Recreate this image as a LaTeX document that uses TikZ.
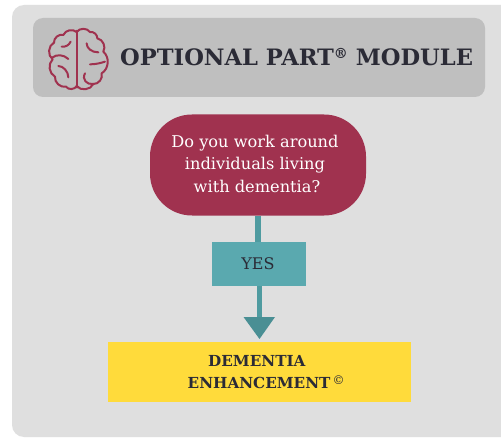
\documentclass[tikz,border=0pt]{standalone}
\usepackage{fontspec}
\setmainfont{DejaVu Serif}
\definecolor{panel}{HTML}{DFDFDF}
\definecolor{band}{HTML}{BFBFBF}
\definecolor{wine}{HTML}{A0324F}
\definecolor{teal1}{HTML}{5AA9AF}
\definecolor{teal2}{HTML}{4A8F94}
\definecolor{teal3}{HTML}{4F9BA0}
\definecolor{sun}{HTML}{FFDB3B}
\definecolor{ink}{HTML}{2B2B36}
\tikzset{
 brainline/.style={draw=wine,line width=2pt,line cap=round,line join=round},
 flowline/.style={draw=teal3,line width=5.5pt},
 label/.style={text=ink,font=\bfseries,align=center,inner sep=0pt}
}
\begin{document}
\begin{tikzpicture}[x=1pt,y=-1pt]
\useasboundingbox (0,0) rectangle (501,441);
\fill[white] (0,0) rectangle (501,441);
\fill[panel,rounded corners=12pt] (12,5) rectangle (520,437);
\node[fill=band,rounded corners=10pt,minimum width=452pt,minimum height=79pt,inner sep=0pt] (header) at (259,57.5) {};
\node[label,font=\bfseries\fontsize{22.6}{26}\selectfont,anchor=west] (title) at (120,57) {OPTIONAL PART\raisebox{0.62ex}{\fontsize{14}{14}\selectfont ®} MODULE};
\node[fill=wine,rounded corners=42pt,minimum width=216pt,minimum height=101pt,inner sep=0pt] (question) at (258,165) {};
\node[text=white,font=\fontsize{16.2}{22.5}\selectfont,align=center,inner sep=0pt] (qtext) at (255,163.5) {Do you work around\\individuals living\\\hspace*{4pt}with dementia?};
\node[fill=teal1,minimum width=94pt,minimum height=44pt,inner sep=0pt] (yes) at (258.5,264) {};
\node[text=ink,font=\fontsize{16}{18}\selectfont,inner sep=0pt] (yestext) at (258,264) {YES};
\node[fill=sun,minimum width=303pt,minimum height=60pt,inner sep=0pt] (result) at (259.5,372) {};
\node[label,font=\bfseries\fontsize{15.2}{21}\selectfont,anchor=west] (r1) at (208,361) {DEMENTIA};
\node[label,font=\bfseries\fontsize{15.2}{21}\selectfont,anchor=west] (r2) at (187.5,382) {ENHANCEMENT\raisebox{0.55ex}{\fontsize{12}{12}\mdseries\selectfont\,©}};
\coordinate (tip) at (259.5,339);
\coordinate (base) at (259.5,317);
\draw[flowline] (question.south) -- (question.south |- yes.north);
\draw[flowline] (base |- yes.south) -- (base);
\fill[teal2] (243.5,317) -- (275,317) -- (tip) -- cycle;
% brain
\begin{scope}[shift={(40,20)},x=0.3333pt,y=-0.3333pt,brainline]
\draw (110,32) -- (110,203);
\draw (110,36) to[bend right=55] (70,45) to[bend right=55] (42,68) to[bend right=60] (38,118) to[bend right=55] (45,170) to[bend right=55] (78,200) to[bend right=60] (110,198);
\draw (110,36) to[bend left=55] (150,36) to[bend left=50] (172,55) to[bend left=55] (190,95) to[bend left=55] (185,160) to[bend left=55] (160,192) to[bend left=60] (110,198);
\draw (65,80) to[bend right=35] (92,65);
\draw (38,112) .. controls (50,103) and (70,103) .. (85,117);
\draw (55,138) .. controls (70,138) and (85,155) .. (85,172);
\draw (140,70) .. controls (140,85) and (155,97) .. (175,97);
\draw (150,133) .. controls (165,133) and (180,130) .. (195,125);
\draw (135,160) .. controls (125,178) and (140,195) .. (160,192);
\end{scope}
\end{tikzpicture}
\end{document}
